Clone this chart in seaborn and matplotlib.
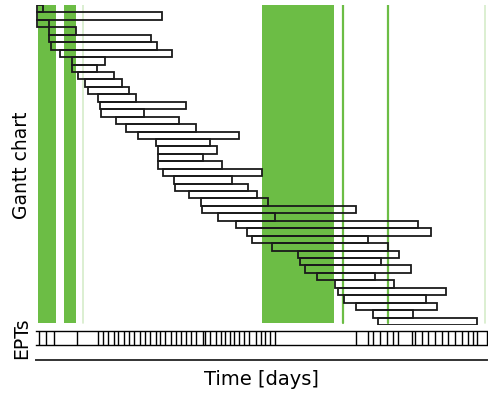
import numpy as np
import pandas as pd
import matplotlib
matplotlib.use("Agg")
import matplotlib.pyplot as plt
import seaborn as sns

# ---- data (time in days) ----
task_start = [0, 0, 0, 12, 12, 14, 23, 35, 35, 41, 48, 51, 61, 63, 64, 79, 89, 101,
              119, 121, 121, 121, 126, 137, 138, 152, 164, 165, 181, 199, 210, 215,
              236, 262, 264, 269, 281, 299, 302, 308, 320, 337, 342]
task_end = [6, 125, 12, 39, 114, 120, 135, 68, 60, 77, 85, 92, 99, 149, 107, 142, 159, 202,
            173, 180, 166, 185, 226, 195, 211, 220, 232, 320, 239, 382, 395, 332,
            352, 363, 345, 375, 339, 358, 410, 390, 401, 377, 441]

green_start = [1, 27, 226]
green_end = [19, 39, 298]
green_lines = [307, 352]
pale_lines = [46, 449]

ept_days = [2, 9, 17, 40, 61, 66, 71, 77, 81, 87, 92, 97, 103, 108, 113, 119, 123, 128,
            134, 139, 144, 149, 154, 159, 166, 168, 173, 179, 184, 188, 193, 197, 202,
            207, 212, 219, 224, 229, 234, 239, 320, 332, 337, 344, 351, 357, 362, 376,
            379, 386, 392, 399, 406, 412, 419, 426, 432, 437, 441, 451]

x_min, x_max = -1, 451

df = pd.DataFrame({"task": np.arange(len(task_start)),
                   "start": task_start, "end": task_end})
df["dur"] = df["end"] - df["start"]

sns.set_theme(style="white")
plt.rcParams["font.family"] = ["DejaVu Sans"]
plt.rcParams["text.color"] = "black"
plt.rcParams["axes.labelcolor"] = "black"

W, H = 489, 393
fig = plt.figure(figsize=(W / 100, H / 100), dpi=100)

def rect(l, t, r, b):
    return [l / W, 1 - b / H, (r - l) / W, (b - t) / H]

green = "#6cbd45"
edge = "#1a1a1a"

# Gantt chart axes
ax = fig.add_axes(rect(36, 5, 487, 325))
for s, e in zip(green_start, green_end):
    ax.axvspan(s, e, ymax=1.0, ymin=0.006, color=green, lw=0, zorder=0)
for x in green_lines:
    ax.axvline(x, ymin=0.006, color=green, lw=1.6, zorder=0)
for x in pale_lines:
    ax.axvline(x, ymin=0.006, color="#d6ecc9", lw=1.2, zorder=0)
ax.barh(df["task"], df["dur"], left=df["start"], height=1.0,
        color="none", edgecolor=edge, linewidth=1.3, zorder=2)
ax.set_xlim(x_min, x_max)
ax.set_ylim(len(df) - 0.5, -0.5)
ax.set_xticks([])
ax.set_yticks([])
for sp in ax.spines.values():
    sp.set_visible(False)
ax.set_ylabel("Gantt chart", fontsize=13.5)
ax.yaxis.set_label_coords(-0.01, 0.5)

# EPT strip axes
ax2 = fig.add_axes(rect(36, 331, 487, 345))
sns.rugplot(x=ept_days, height=1, ax=ax2, color="black", lw=1.0, clip_on=False)
ax2.set_xlim(x_min, x_max)
ax2.set_ylim(0, 1)
ax2.set_xticks([])
ax2.set_yticks([])
for k in ["left", "right"]:
    ax2.spines[k].set_visible(False)
for k in ["top", "bottom"]:
    ax2.spines[k].set_visible(True)
    ax2.spines[k].set_color("black")
    ax2.spines[k].set_linewidth(1.0)
ax2.set_ylabel("EPTs", fontsize=13.5)
ax2.yaxis.set_label_coords(-0.01, 0.5)

# Time axis line
ax3 = fig.add_axes(rect(36, 355, 487, 360))
ax3.set_xlim(x_min, x_max)
ax3.set_xticks([])
ax3.set_yticks([])
for k in ["left", "right", "top"]:
    ax3.spines[k].set_visible(False)
ax3.spines["bottom"].set_visible(True)
ax3.spines["bottom"].set_color("#333333")
ax3.spines["bottom"].set_linewidth(1.4)
ax3.patch.set_alpha(0)
ax3.set_xlabel("Time [days]", fontsize=14, labelpad=7)

fig.savefig("out.png", dpi=100)
